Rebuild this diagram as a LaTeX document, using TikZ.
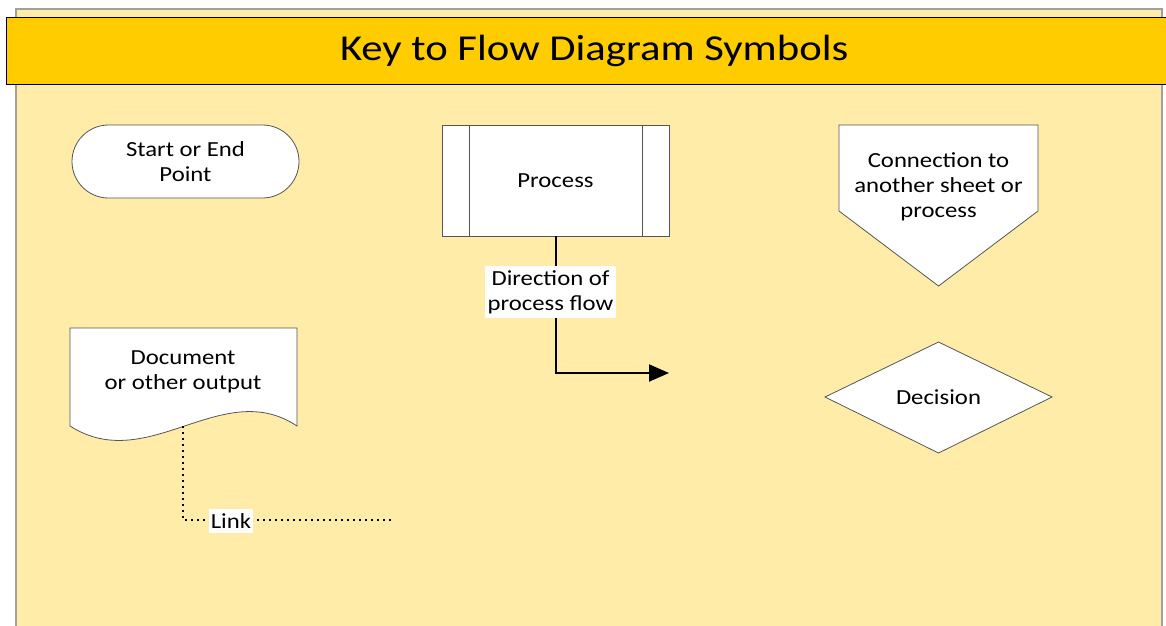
\documentclass[tikz,border=0pt]{standalone}
\usepackage{fontspec}
\setmainfont{Carlito}[FakeStretch=1.15]
\usetikzlibrary{arrows.meta,calc}
\definecolor{panel}{RGB}{255,236,168}
\definecolor{banner}{RGB}{255,204,0}
\definecolor{edge}{RGB}{85,85,85}
\definecolor{frame}{RGB}{160,160,160}
\tikzset{
  body/.style={font=\fontsize{21.5}{25}\selectfont, align=center, text=black},
  symbol/.style={draw=edge, fill=white, line width=0.8pt},
  terminal/.style={symbol, body, rounded corners=36.5pt, minimum width=227pt, minimum height=73pt},
  procbox/.style={symbol, body, minimum width=227pt, minimum height=111pt},
  tag/.style={body, fill=white, inner xsep=3pt, inner ysep=1pt},
  flow/.style={line width=2pt, -{Triangle[length=20pt,width=17pt]}},
  linkline/.style={line width=1.6pt, dash pattern=on 1.6pt off 4.4pt}
}
\begin{document}
\begin{tikzpicture}[x=1pt,y=-1pt]
\useasboundingbox (0,0) rectangle (1166,625);
\fill[white] (0,0) rectangle (1166,625);
% key panel
\draw[frame, fill=panel, line width=2pt] (16,9) rectangle (1162,660);
% heading banner
\node[draw=black, fill=banner, line width=1.3pt, anchor=north west,
      minimum width=1175pt, minimum height=67pt, inner sep=0pt,
      font=\fontsize{36.5}{40}\selectfont] (title) at (6,17)
      {\addfontfeature{FakeStretch=1.17}Key to Flow Diagram Symbols};

% start / end terminal
\node[terminal] (start) at (185.5,161.5) {Start or End\\Point};

% predefined process
\node[procbox] (proc) at (555.5,180.5) {Process};
\draw[edge, line width=0.8pt] ($(proc.north west)+(28,0)$) -- ($(proc.south west)+(28,0)$);
\draw[edge, line width=0.8pt] ($(proc.north east)+(-27,0)$) -- ($(proc.south east)+(-27,0)$);

% off-page connector
\draw[symbol] (839,125) -- (1038,125) -- (1038,211) -- (938.5,286) -- (839,211) -- cycle;
\node[body] (conn) at (938.5,187) {Connection to\\another sheet or\\process};

% document
\draw[symbol] (70,328) -- (297,328) -- (297,426)
  .. controls (222,376) and (148,476) .. (70,426) -- cycle;
\node[body] (doc) at (183,371.5) {Document\\or other output};

% decision
\draw[symbol] (825,397) -- (938.5,342) -- (1052,397) -- (938.5,453) -- cycle;
\node[body] (dec) at (938.5,397) {Decision};

% direction of flow
\coordinate (flowend) at (669,373);
\draw[flow] (proc.south) |- (flowend);
\node[tag, minimum height=52pt] (flowlbl) at (550.5,292) {Direction of\\process flow};

% dotted link
\coordinate (docbot) at (183,426);
\coordinate (linkend) at (393,520);
\draw[linkline] (docbot) |- (linkend);
\node[tag, minimum height=24pt, inner xsep=2pt] (link) at (231,521) {Link};
\end{tikzpicture}
\end{document}
